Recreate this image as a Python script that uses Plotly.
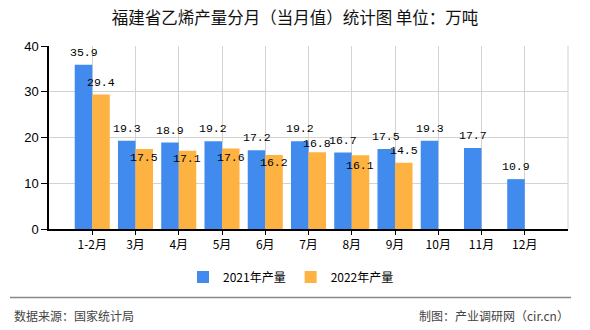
import plotly.graph_objects as go

# ---- data ----
categories = ["1-2月", "3月", "4月", "5月", "6月", "7月", "8月", "9月", "10月", "11月", "12月"]
series_2021 = [35.9, 19.3, 18.9, 19.2, 17.2, 19.2, 16.7, 17.5, 19.3, 17.7, 10.9]
series_2022 = [29.4, 17.5, 17.1, 17.6, 16.2, 16.8, 16.1, 14.5]
name_2021 = "2021年产量"
name_2022 = "2022年产量"
y_ticks = [0, 10, 20, 30, 40]

title_text = "福建省乙烯产量分月（当月值）统计图 单位：万吨"
source_text = "数据来源：国家统计局"
credit_text = "制图：产业调研网（cir.cn）"

# ---- style ----
W, H = 590, 330
L, R, T, B = 49, 22, 46, 101
PW, PH = W - L - R, H - T - B
BLUE = "#418BEE"
ORANGE = "#FDB241"
CJK = "Noto Sans CJK SC"
label_font = dict(family="Liberation Mono, DejaVu Sans Mono, monospace", size=11.5, color="#000")
blue_label_shift = 12.5
orange_label_shift = [12.5, -9, -8, -9, -8, 9, -10, 12.5]  # px, + = above bar top
bar_half = 8.7  # px offset of each bar centre from category centre


def px_x(px):
    return (px - L) / PW


def px_y(py):
    return (H - B - py) / PH


fig = go.Figure()
fig.add_trace(go.Bar(x=categories, y=series_2021, name=name_2021, marker_color=BLUE,
                     marker_line_width=0))
fig.add_trace(go.Bar(x=categories[:len(series_2022)], y=series_2022, name=name_2022,
                     marker_color=ORANGE, marker_line_width=0))

annotations = []
for c, v in zip(categories, series_2021):
    annotations.append(dict(x=c, y=v, xref="x", yref="y", text=f"{v:.1f}", showarrow=False,
                            xshift=-bar_half, yshift=blue_label_shift, yanchor="middle",
                            font=label_font))
for c, v, s in zip(categories, series_2022, orange_label_shift):
    annotations.append(dict(x=c, y=v, xref="x", yref="y", text=f"{v:.1f}", showarrow=False,
                            xshift=bar_half, yshift=s, yanchor="middle", font=label_font))

annotations.append(dict(x=px_x(12), y=px_y(315), xref="paper", yref="paper", text=source_text,
                        showarrow=False, xanchor="left", yanchor="middle",
                        font=dict(family=CJK, size=12, color="#444")))
annotations.append(dict(x=px_x(571), y=px_y(315), xref="paper", yref="paper", text=credit_text,
                        showarrow=False, xanchor="right", yanchor="middle",
                        font=dict(family=CJK, size=12, color="#444")))

shapes = [
    dict(type="line", xref="paper", yref="paper", x0=1, x1=1, y0=0, y1=1,
         line=dict(color="#D3D3D3", width=1)),
    dict(type="line", xref="paper", yref="paper", x0=px_x(10), x1=px_x(571),
         y0=px_y(297.5), y1=px_y(297.5), line=dict(color="#888", width=1.5)),
]

fig.update_layout(
    width=W, height=H,
    margin=dict(l=L, r=R, t=T, b=B),
    paper_bgcolor="white", plot_bgcolor="white",
    barmode="group", bargap=0.19, bargroupgap=0,
    title=dict(text=title_text, x=0.5, xref="container", xanchor="center",
               y=1 - 18 / H, yref="container", yanchor="middle",
               font=dict(family=CJK, size=16.5, color="#111")),
    legend=dict(orientation="h", x=px_x(291), y=px_y(277), xanchor="center", yanchor="middle",
                font=dict(family=CJK, size=12, color="#000"), itemwidth=30,
                bgcolor="rgba(0,0,0,0)", traceorder="normal"),
    annotations=annotations,
    shapes=shapes,
    font=dict(family=CJK),
)
fig.update_xaxes(
    type="category", range=[-1, len(categories)],
    showgrid=True, gridcolor="#D3D3D3", gridwidth=1,
    showline=True, linecolor="#000", linewidth=1.5,
    ticks="outside", ticklen=4, tickcolor="#000",
    tickfont=dict(family=CJK, size=12, color="#000"),
    zeroline=False, fixedrange=True,
)
fig.update_yaxes(
    range=[0, 40], tickvals=y_ticks,
    showgrid=True, gridcolor="#D3D3D3", gridwidth=1,
    showline=True, linecolor="#000", linewidth=1.5,
    ticks="outside", ticklen=6, tickcolor="#000",
    tickfont=dict(family="Liberation Sans, Arial, sans-serif", size=13, color="#000"),
    zeroline=False, fixedrange=True,
)

fig.write_html("out.html", config={"displayModeBar": False})
